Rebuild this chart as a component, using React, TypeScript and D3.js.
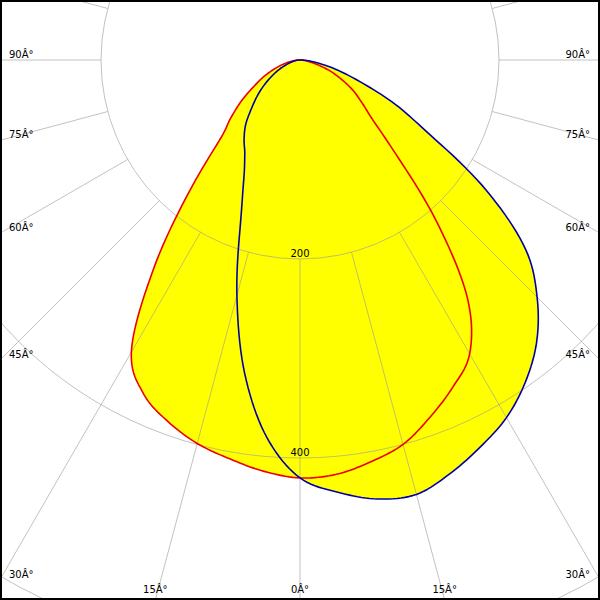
import React from "react";
import * as d3 from "d3";

// Polar angles (degrees from nadir)
const angles = [0, 5, 10, 15, 20, 25, 30, 35, 40, 45, 50, 55, 60, 65, 70, 75, 80, 85, 90];
// Red curve (C0 right / C180 left), cd/klm
const redRight = [420, 418, 410, 400, 382, 363, 341, 294, 216, 141, 98, 77, 62, 46, 32, 18, 9, 4, 0];
const redLeft = [420, 415, 407, 399, 387, 371, 339, 257, 174, 115, 91, 72, 54, 41, 29, 19, 11, 5, 0];
// Blue curve (C90 right / C270 left)
const blueRight = [420, 436, 448, 452, 442, 429, 415, 395, 370, 337, 296, 229, 152, 106, 65, 39, 20, 8, 0];
const blueLeft = [420, 381, 320, 245, 175, 134, 111, 98, 85, 69, 56, 44, 33, 24, 16, 10, 6, 3, 0];

const ringValues = [200, 400, 600];
const ringLabels = ["200", "400"];
const angleLabels = [0, 15, 30, 45, 60, 75, 90];
const spokeAngles = d3.range(0, 360, 15);

const W = 600;
const H = 600;
const CX = 300;
const CY = 60;
const FONT = "'DejaVu Sans', Verdana, sans-serif";

const rad = (deg: number) => (deg * Math.PI) / 180;

// Build smooth polar samples: signed angle phi (right negative, left positive)
function samples(right: number[], left: number[]): [number, number][] {
  const phis: number[] = [];
  const vals: number[] = [];
  for (let i = angles.length - 1; i >= 0; i--) {
    phis.push(-angles[i]);
    vals.push(right[i]);
  }
  for (let i = 1; i < angles.length; i++) {
    phis.push(angles[i]);
    vals.push(left[i]);
  }
  const n = vals.length;
  const get = (k: number) => vals[Math.max(0, Math.min(n - 1, k))];
  const out: [number, number][] = [];
  const sub = 10;
  for (let i = 0; i < n - 1; i++) {
    const p0 = get(i - 1), p1 = get(i), p2 = get(i + 1), p3 = get(i + 2);
    for (let s = 0; s < sub; s++) {
      const t = s / sub;
      const v =
        0.5 *
        (2 * p1 +
          (-p0 + p2) * t +
          (2 * p0 - 5 * p1 + 4 * p2 - p3) * t * t +
          (-p0 + 3 * p1 - 3 * p2 + p3) * t * t * t);
      const phi = phis[i] + (phis[i + 1] - phis[i]) * t;
      out.push([phi, Math.max(0, v)]);
    }
  }
  out.push([phis[n - 1], vals[n - 1]]);
  return out;
}

export default function App() {
  const r = d3.scaleLinear().domain([0, 600]).range([0, 597]);

  const line = d3
    .lineRadial<[number, number]>()
    .angle((d) => Math.PI + rad(d[0]))
    .radius((d) => r(d[1]));

  const redPath = line(samples(redRight, redLeft)) + "Z";
  const bluePath = line(samples(blueRight, blueLeft)) + "Z";

  const innerR = r(200);

  const labels = angleLabels.flatMap((a) =>
    (a === 0 ? [1] : [-1, 1]).map((s) => {
      const th = rad(a);
      const sn = Math.sin(th);
      const cs = Math.cos(th);
      const tx = sn > 1e-6 ? 300 / sn : Infinity;
      const ty = cs > 1e-6 ? (H - CY) / cs : Infinity;
      if (tx < ty) {
        const y = CY + tx * cs;
        return {
          key: `${a}-${s}`,
          x: s < 0 ? 9 : 590,
          y: y - 2,
          anchor: s < 0 ? "start" : "end",
          text: `${a}Â°`,
        };
      }
      const x = CX + s * ty * sn;
      return { key: `${a}-${s}`, x, y: 593, anchor: "middle", text: `${a}Â°` };
    })
  );

  return (
    <svg
      width={W}
      height={H}
      style={{ position: "absolute", left: 0, top: 0, background: "#fff" }}
      fontFamily={FONT}
    >
      <rect x={0} y={0} width={W} height={H} fill="#fff" />
      <g transform={`translate(${CX},${CY})`}>
        <path d={redPath} fill="#ffff00" stroke="none" />
        <path d={bluePath} fill="#ffff00" stroke="none" />
        <g stroke="#999" strokeOpacity={0.6} fill="none" strokeWidth={1}>
          {ringValues.map((v) => (
            <circle key={v} r={r(v)} />
          ))}
          {spokeAngles.map((a) => {
            const th = rad(a);
            return (
              <line
                key={a}
                x1={innerR * Math.sin(th)}
                y1={innerR * Math.cos(th)}
                x2={900 * Math.sin(th)}
                y2={900 * Math.cos(th)}
              />
            );
          })}
        </g>
        <path d={redPath} fill="none" stroke="#ee0000" strokeWidth={1.6} strokeLinejoin="round" />
        <path d={bluePath} fill="none" stroke="#0000a8" strokeWidth={1.6} strokeLinejoin="round" />
        {ringLabels.map((t, i) => (
          <text key={t} x={0} y={r(ringValues[i]) - 2} textAnchor="middle" fontSize={10} fill="#000">
            {t}
          </text>
        ))}
      </g>
      {labels.map((l) => (
        <text key={l.key} x={l.x} y={l.y} textAnchor={l.anchor as any} fontSize={10} fill="#000">
          {l.text}
        </text>
      ))}
      <rect x={1} y={1} width={W - 2} height={H - 2} fill="none" stroke="#000" strokeWidth={2} />
    </svg>
  );
}
